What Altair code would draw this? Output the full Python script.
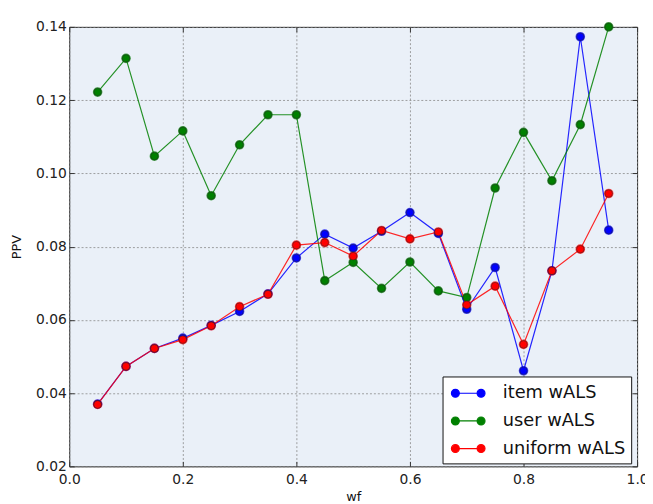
import altair as alt
import pandas as pd

wf = [0.05, 0.10, 0.15, 0.20, 0.25, 0.30, 0.35, 0.40, 0.45, 0.50,
      0.55, 0.60, 0.65, 0.70, 0.75, 0.80, 0.85, 0.90, 0.95]

item_wals = [0.0370, 0.0473, 0.0522, 0.0550, 0.0585, 0.0623, 0.0671, 0.0769, 0.0834, 0.0796,
             0.0842, 0.0893, 0.0836, 0.0629, 0.0743, 0.0461, 0.0734, 0.1373, 0.0845]
user_wals = [0.1222, 0.1314, 0.1047, 0.1116, 0.0939, 0.1078, 0.1160, 0.1160, 0.0707, 0.0757,
             0.0686, 0.0758, 0.0679, 0.0661, 0.0960, 0.1112, 0.0980, 0.1133, 0.1400]
uniform_wals = [0.0369, 0.0473, 0.0522, 0.0546, 0.0584, 0.0636, 0.0670, 0.0804, 0.0811, 0.0774,
                0.0844, 0.0821, 0.0840, 0.0641, 0.0692, 0.0533, 0.0734, 0.0793, 0.0945]

series_names = ["item wALS", "user wALS", "uniform wALS"]
series_colors = ["#0000ff", "#008000", "#ff0000"]

x_ticks = [0.0, 0.2, 0.4, 0.6, 0.8, 1.0]
y_ticks = [0.02, 0.04, 0.06, 0.08, 0.10, 0.12, 0.14]

rows = []
for name, vals in zip(series_names, [item_wals, user_wals, uniform_wals]):
    for x, v in zip(wf, vals):
        rows.append({"wf": x, "PPV": v, "series": name})
df = pd.DataFrame(rows)

FONT = "DejaVu Sans"

xscale = alt.Scale(domain=[0, 1], nice=False, zero=False)
yscale = alt.Scale(domain=[0.02, 0.14], nice=False, zero=False)

x_main = alt.Axis(orient="bottom", values=x_ticks, format=".1f", offset=-5, tickSize=5,
                  domain=False, grid=True, gridColor="#888", gridDash=[2, 2], gridOpacity=0.8,
                  labelPadding=6, labelFontSize=14, labelFont=FONT, labelColor="#222",
                  labelFlush=False, labelOverlap=False,
                  tickColor="#333", title="wf", titleFont=FONT, titleFontSize=13,
                  titleFontWeight="normal", titlePadding=5, titleColor="#111")
y_main = alt.Axis(orient="left", values=y_ticks, format=".2f", offset=-5, tickSize=5,
                  domain=False, grid=True, gridColor="#888", gridDash=[2, 2], gridOpacity=0.8,
                  labelPadding=3, labelFontSize=14, labelFont=FONT, labelColor="#222",
                  labelFlush=False, labelOverlap=False,
                  tickColor="#333", title="PPV", titleFont=FONT, titleFontSize=13,
                  titleFontWeight="normal", titlePadding=12, titleColor="#111")
x_top = alt.Axis(orient="top", values=x_ticks, offset=-5, tickSize=5, domain=False, grid=False,
                 labels=False, title=None, tickColor="#333")
y_right = alt.Axis(orient="right", values=y_ticks, offset=-5, tickSize=5, domain=False, grid=False,
                   labels=False, title=None, tickColor="#333")

sym = ("M-1.3,0L1.3,0"
       "M-1.7,0a0.4,0.4 0 1,0 0.8,0a0.4,0.4 0 1,0 -0.8,0"
       "M0.9,0a0.4,0.4 0 1,0 0.8,0a0.4,0.4 0 1,0 -0.8,0")

legend = alt.Legend(title=None, orient="none", legendX=378, legendY=354,
                    symbolType=sym, symbolSize=400, symbolStrokeWidth=1.2, symbolOpacity=1,
                    labelFont=FONT, labelFontSize=18, labelColor="#111", labelLimit=300,
                    labelOffset=24, symbolOffset=9, rowPadding=8, padding=6,
                    fillColor="white", strokeColor="#111", cornerRadius=0)

carrier = alt.Chart(df).mark_point(filled=True, size=60).encode(
    x=alt.X("wf:Q", scale=xscale, axis=None),
    y=alt.Y("PPV:Q", scale=yscale, axis=None),
    fill=alt.Fill("series:N", scale=alt.Scale(domain=series_names, range=series_colors), legend=legend),
    stroke=alt.Stroke("series:N", scale=alt.Scale(domain=series_names, range=series_colors), legend=legend),
)

lines = alt.Chart(df).mark_line(strokeWidth=1.2, opacity=0.85).encode(
    x=alt.X("wf:Q", scale=xscale, axis=x_main),
    y=alt.Y("PPV:Q", scale=yscale, axis=y_main),
    color=alt.Color("series:N", scale=alt.Scale(domain=series_names, range=series_colors), legend=None),
    order="wf:Q",
)

points = alt.Chart(df).mark_point(filled=True, size=60, stroke="#222", strokeWidth=0.5, opacity=1).encode(
    x=alt.X("wf:Q", scale=xscale, axis=x_top),
    y=alt.Y("PPV:Q", scale=yscale, axis=y_right),
    color=alt.Color("series:N", scale=alt.Scale(domain=series_names, range=series_colors), legend=None),
)

chart = alt.layer(carrier, lines, points).properties(
    width=575, height=445,
    autosize=alt.AutoSizeParams(type="none"),
    padding={"left": 62, "top": 16, "right": 8, "bottom": 35},
    background="white",
).configure_view(
    fill="#eaf0f8", stroke="#222", strokeWidth=1
)

chart.save("out.html", embed_options={"renderer": "svg", "actions": False})
